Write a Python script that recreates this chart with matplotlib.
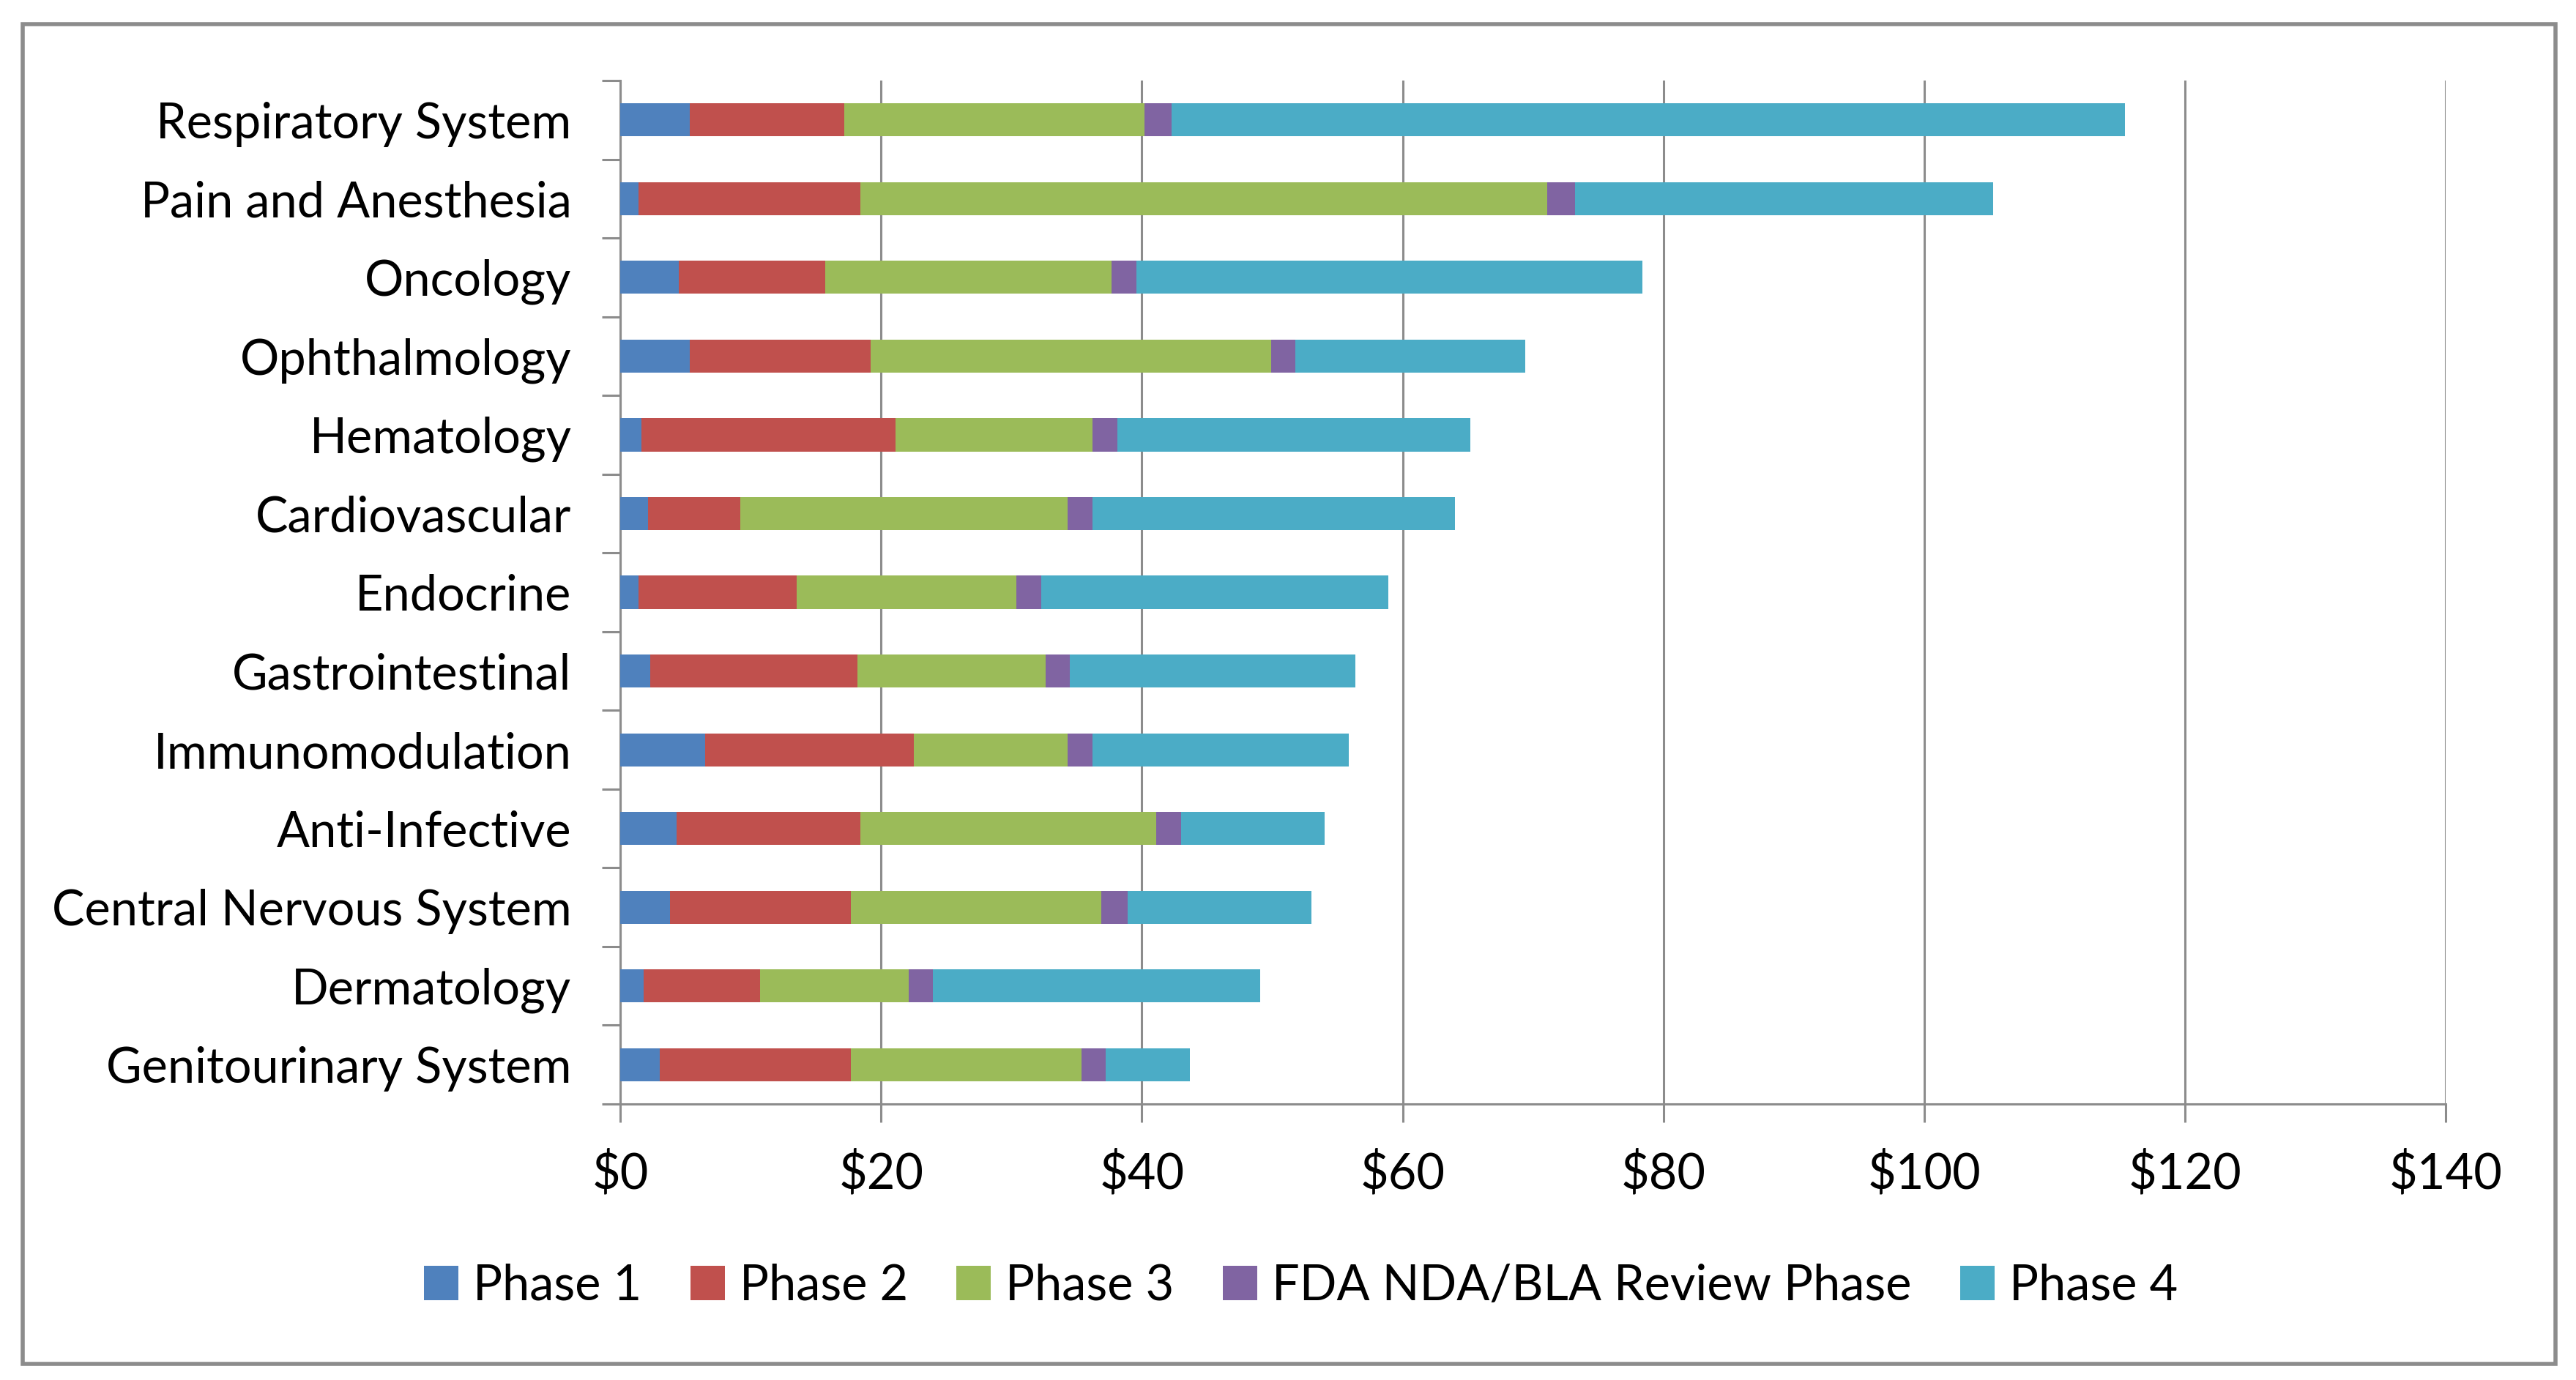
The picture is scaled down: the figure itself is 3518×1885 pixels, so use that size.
import matplotlib
matplotlib.use('Agg')
import matplotlib.pyplot as plt
from matplotlib.patches import Rectangle
import numpy as np

plt.rcParams['font.family'] = ['Lato', 'DejaVu Sans']

# DATA (top to bottom as in the chart)
categories = ['Respiratory System', 'Pain and Anesthesia', 'Oncology', 'Ophthalmology',
              'Hematology', 'Cardiovascular', 'Endocrine', 'Gastrointestinal',
              'Immunomodulation', 'Anti-Infective', 'Central Nervous System',
              'Dermatology', 'Genitourinary System']
phase1 = [5.3, 1.4, 4.5, 5.3, 1.6, 2.1, 1.4, 2.3, 6.5, 4.3, 3.8, 1.8, 3.0]
phase2 = [11.9, 17.0, 11.2, 13.9, 19.5, 7.1, 12.1, 15.9, 16.0, 14.1, 13.9, 8.9, 14.7]
phase3 = [23.0, 52.7, 22.0, 30.7, 15.1, 25.1, 16.9, 14.4, 11.8, 22.7, 19.2, 11.4, 17.7]
review = [2.1, 2.1, 1.9, 1.9, 1.9, 1.9, 1.9, 1.9, 1.9, 1.9, 2.0, 1.9, 1.8]
phase4 = [73.1, 32.1, 38.8, 17.6, 27.1, 27.8, 26.6, 21.9, 19.7, 11.0, 14.1, 25.1, 6.5]
series_names = ['Phase 1', 'Phase 2', 'Phase 3', 'FDA NDA/BLA Review Phase', 'Phase 4']
colors = ['#4F81BD', '#C0504D', '#9BBB59', '#8064A2', '#4BACC6']
x_ticks = [0, 20, 40, 60, 80, 100, 120, 140]
x_labels = ['$0', '$20', '$40', '$60', '$80', '$100', '$120', '$140']

# FIGURE
fig = plt.figure(figsize=(17.59, 9.425), dpi=200)
ax = fig.add_axes([0.2408, 0.2, 0.7086, 0.7416])

n = len(categories)
ypos = np.arange(n)[::-1]
left = np.zeros(n)
for vals, name, col in zip([phase1, phase2, phase3, review, phase4], series_names, colors):
    ax.barh(ypos, vals, left=left, height=0.42, color=col, label=name, zorder=3)
    left = left + np.array(vals)

ax.set_xlim(0, 140)
ax.set_ylim(-0.5, n - 0.5)
ax.set_xticks(x_ticks)
ax.set_xticklabels(x_labels, fontsize=24)
ax.set_yticks(ypos)
ax.set_yticklabels(categories, fontsize=24)
ax.set_yticks(np.arange(n + 1) - 0.5, minor=True)

grey = '#8C8C8C'
ax.grid(axis='x', color=grey, linewidth=1.1, zorder=0)
ax.tick_params(axis='x', which='major', direction='out', length=9, width=1.1,
               color=grey, pad=14)
ax.tick_params(axis='y', which='major', length=0, pad=24)
ax.tick_params(axis='y', which='minor', direction='out', length=9, width=1.1, color=grey)
for s in ['top', 'right']:
    ax.spines[s].set_visible(False)
for s in ['left', 'bottom']:
    ax.spines[s].set_color(grey)
    ax.spines[s].set_linewidth(1.1)

ax.legend(loc='center', bbox_to_anchor=(0.505, 0.068), bbox_transform=fig.transFigure,
          ncol=5, frameon=False, fontsize=24, handlelength=0.7, handleheight=0.7,
          handletextpad=0.3, columnspacing=1.0)

# outer chart border
fig.patches.append(Rectangle((31 / 3518, 1 - 1863 / 1885), (3490 - 31) / 3518,
                             (1863 - 33) / 1885, transform=fig.transFigure,
                             fill=False, edgecolor='#8C8C8C', linewidth=2))

fig.savefig('out.png', dpi=200)
